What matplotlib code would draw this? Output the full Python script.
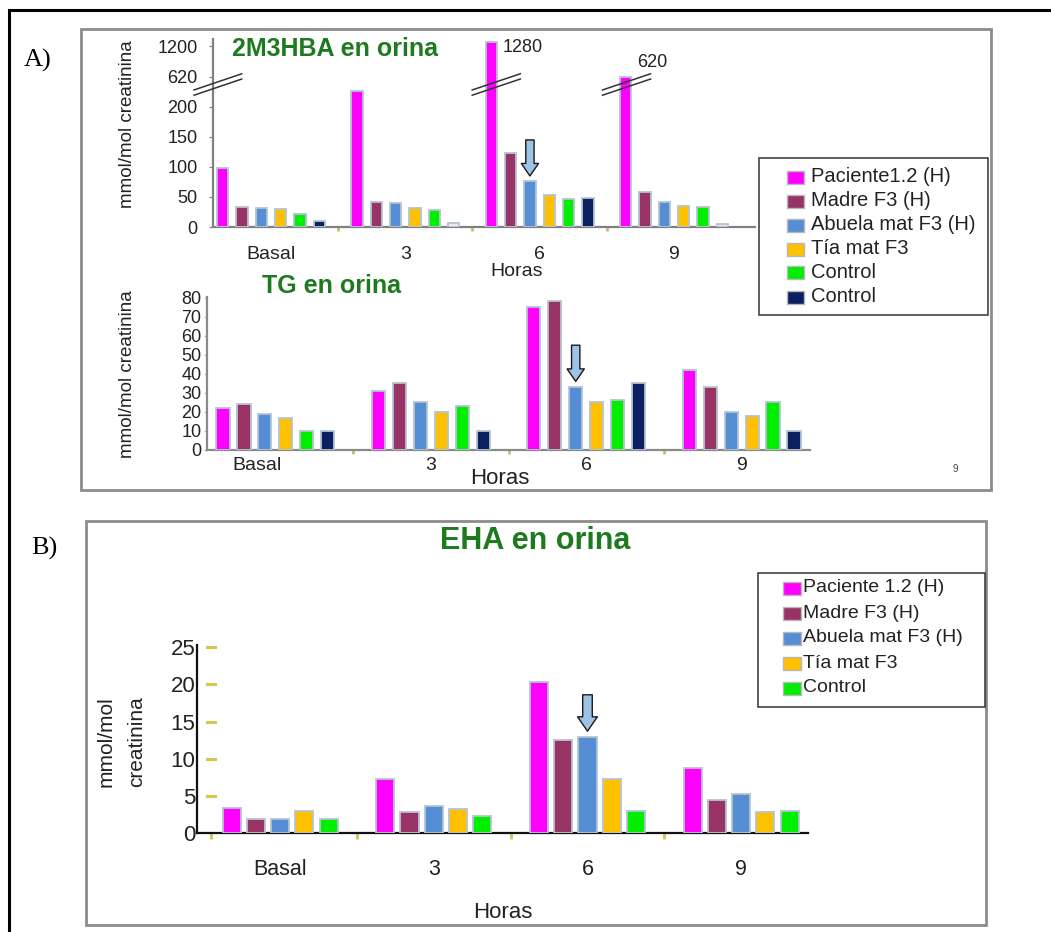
import numpy as np
import matplotlib
matplotlib.use("Agg")
import matplotlib.pyplot as plt
from matplotlib.patches import Rectangle
from matplotlib.lines import Line2D
from matplotlib.transforms import blended_transform_factory
from matplotlib import font_manager

# ---------------- data ----------------
timepoints = ["Basal", "3", "6", "9"]

series_a = ["Paciente1.2 (H)", "Madre F3 (H)", "Abuela mat F3 (H)", "Tía mat F3", "Control", "Control"]
m2hba_paciente = [99, 227, 1280, 620]
m2hba_madre = [34, 42, 124, 58]
m2hba_abuela = [31, 40, 77, 42]
m2hba_tia = [30, 32, 53, 35]
m2hba_control1 = [22, 29, 47, 33]
m2hba_control2 = [10, 6, 48, 5]
m2hba_labels = {2: "1280", 3: "620"}

tg_paciente = [22, 31, 75, 42]
tg_madre = [24, 35, 78, 33]
tg_abuela = [19, 25, 33, 20]
tg_tia = [17, 20, 25, 18]
tg_control1 = [10, 23, 26, 25]
tg_control2 = [10, 10, 35, 10]

series_b = ["Paciente 1.2 (H)", "Madre F3 (H)", "Abuela mat F3 (H)", "Tía mat F3", "Control"]
eha_paciente = [3.3, 7.3, 20.3, 8.8]
eha_madre = [1.9, 2.8, 12.5, 4.5]
eha_abuela = [1.9, 3.7, 12.9, 5.2]
eha_tia = [3.0, 3.2, 7.3, 2.8]
eha_control = [1.9, 2.3, 3.0, 3.0]

m2hba_ticks = [0, 50, 100, 150, 200, 620, 1200]
tg_ticks = [0, 10, 20, 30, 40, 50, 60, 70, 80]
eha_ticks = [0, 5, 10, 15, 20, 25]

# ---------------- styles ----------------
PINK, MAROON, BLUE, YELLOW, GREEN, NAVY, PALE = (
    "#ff00ff", "#993366", "#558ed5", "#ffc000", "#00ee00", "#0b2060", "#ece8f6")
colors_a = [PINK, MAROON, BLUE, YELLOW, GREEN, NAVY]
control2_bar_colors = [NAVY, PALE, NAVY, PALE]
colors_b = [PINK, MAROON, BLUE, YELLOW, GREEN]
EDGE = "#b4c4d2"
TGREEN = "#1e7a1e"
ARROW_FC = "#9dc3e6"

names = {f.name for f in font_manager.fontManager.ttflist}
SANS = "Liberation Sans" if "Liberation Sans" in names else "DejaVu Sans"
NARROW = "Liberation Sans Narrow" if "Liberation Sans Narrow" in names else SANS
SERIF = "Liberation Serif" if "Liberation Serif" in names else "DejaVu Serif"
plt.rcParams["font.family"] = [SANS, "DejaVu Sans"]

W, H = 1051, 932
fig = plt.figure(figsize=(W / 100, H / 100), dpi=100)
fig.patch.set_facecolor("white")


def R(x0, y0, x1, y1):
    return [x0 / W, 1 - y1 / H, (x1 - x0) / W, (y1 - y0) / H]


def T(x, y, s, **kw):
    return fig.text(x / W, 1 - y / H, s, **kw)


def frame(x0, y0, x1, y1, ec, lw):
    fig.add_artist(Rectangle((x0 / W, 1 - y1 / H), (x1 - x0) / W, (y1 - y0) / H,
                             fill=False, ec=ec, lw=lw, transform=fig.transFigure))


def down_arrow(ax, x, tip, tail, scale=20):
    ax.annotate("", xy=(x, tip), xytext=(x, tail),
                arrowprops=dict(arrowstyle="simple,head_length=0.45,head_width=0.62,tail_width=0.3",
                                fc=ARROW_FC, ec="#1a1a1a", lw=1.0, shrinkA=0, shrinkB=0,
                                mutation_scale=scale))


def manual_legend(box, labels, colors, patch_x, y0, dy, text_x, fs, pw=17, ph=13):
    x0, yt, x1, yb = box
    frame(x0, yt, x1, yb, "#333333", 1.1)
    for i, (lab, c) in enumerate(zip(labels, colors)):
        yc = y0 + i * dy
        fig.add_artist(Rectangle((patch_x / W, 1 - (yc + ph / 2) / H), pw / W, ph / H,
                                 fc=c, ec="#b8b8b8", lw=1.0, transform=fig.transFigure))
        T(text_x, yc, lab, ha="left", va="center", fontsize=fs, color="#222222")


# outer black frame (top and left only) and panel frames
fig.add_artist(Line2D([9 / W, 1.0], [1 - 10 / H, 1 - 10 / H], color="black", lw=2.2,
                      transform=fig.transFigure))
fig.add_artist(Line2D([9 / W, 9 / W], [1 - 10 / H, 0.0], color="black", lw=2.2,
                      transform=fig.transFigure))
frame(81, 29, 991, 490, "#8c8c8c", 2.0)
frame(86, 521, 986, 925, "#8c8c8c", 2.0)
T(38, 60, "A)", ha="center", va="center", fontsize=19, family=SERIF)
T(44, 548, "B)", ha="center", va="center", fontsize=19, family=SERIF)

x = np.arange(len(timepoints))


def grouped(ax, values, colors, slot, width, per_bar=None):
    n = len(values)
    for j, (vals, c) in enumerate(zip(values, colors)):
        xs = x + (j - (n - 1) / 2) * slot
        col = per_bar if (per_bar is not None and j == n - 1) else c
        ax.bar(xs, vals, width, color=col, edgecolor=EDGE, linewidth=1.3, zorder=3)


def base_style(ax, spine_color):
    for s in ("top", "right"):
        ax.spines[s].set_visible(False)
    for s in ("left", "bottom"):
        ax.spines[s].set_color(spine_color)
        ax.spines[s].set_linewidth(1.6)
    ax.set_facecolor("none")


# ---------------- panel A top: 2M3HBA ----------------
SLOPE_TOP = 0.088
XP = [-1e4, 240, 620, 1e5]
FP = [-1e4, 240, 250, 250 + (1e5 - 620) * SLOPE_TOP]


def fwd(v):
    return np.interp(v, XP, FP)


def inv(v):
    return np.interp(v, FP, XP)


ax1 = fig.add_axes(R(213, 39, 755, 227))
ax1.set_yscale("function", functions=(fwd, inv))
slot_a = 0.144
values_a = [m2hba_paciente, m2hba_madre, m2hba_abuela, m2hba_tia, m2hba_control1, m2hba_control2]
grouped(ax1, values_a, colors_a, slot_a, 0.085, per_bar=control2_bar_colors)
ax1.set_xlim(-0.432, 3.604)
ax1.set_ylim(0, float(inv(313)))
base_style(ax1, "#808080")
ax1.set_yticks(m2hba_ticks)
ax1.set_yticklabels([str(t) for t in m2hba_ticks])
ax1.tick_params(axis="y", length=3, color="#808080", pad=8, labelsize=13, labelcolor="#222222")
ax1.set_xticks(x)
ax1.set_xticklabels(timepoints)
ax1.tick_params(axis="x", length=0, pad=14, labelsize=14, labelcolor="#222222")
ax1.set_xticks([0.5, 1.5, 2.5], minor=True)
ax1.tick_params(axis="x", which="minor", length=3, width=2, color="#c8c060")

# break marks
bt = blended_transform_factory(ax1.transData, ax1.transAxes)
p_off = (0 - 2.5) * slot_a
for k, dxpx in ((2, 5), (3, 1)):
    xc = k + p_off + dxpx / 134.3
    for d in (-0.014, 0.014):
        ax1.plot([xc - 0.179, xc + 0.179], [0.758 - 0.043 + d, 0.758 + 0.043 + d],
                 transform=bt, color="#333333", lw=1.1, clip_on=False, zorder=5)
for d in (-0.014, 0.014):
    ax1.plot([-0.035, 0.053], [0.758 - 0.043 + d, 0.758 + 0.043 + d],
             transform=ax1.transAxes, color="#333333", lw=1.1, clip_on=False, zorder=5)

for k, lab in m2hba_labels.items():
    ax1.annotate(lab, xy=(k + p_off, m2hba_paciente[k]), xytext=(8, -4 if k == 2 else 10),
                 textcoords="offset points", ha="left", va="center", fontsize=13, color="#222222")

xa = 2 + (2 - 2.5) * slot_a
down_arrow(ax1, xa, m2hba_abuela[2] + 8, m2hba_abuela[2] + 68)

T(232, 49, "2M3HBA en orina", ha="left", va="center", fontsize=18, fontweight="bold", color=TGREEN)
T(128, 124, "mmol/mol creatinina", ha="center", va="center", rotation=90, fontsize=13.5,
  family=NARROW, color="#222222")
T(517, 272, "Horas", ha="center", va="center", fontsize=14, color="#222222")

manual_legend((759, 158, 988, 315), series_a, colors_a, 787, 177, 24, 811, 14.5)

# ---------------- panel A bottom: TG ----------------
ax2 = fig.add_axes(R(207, 297, 810, 450))
slot_t = 0.135
values_t = [tg_paciente, tg_madre, tg_abuela, tg_tia, tg_control1, tg_control2]
grouped(ax2, values_t, colors_a, slot_t, 0.085)
ax2.set_xlim(-0.44, 3.44)
ax2.set_ylim(0, 80.3)
base_style(ax2, "#8a8a8a")
ax2.set_yticks(tg_ticks)
ax2.tick_params(axis="y", length=2, color="#c8c060", pad=2, labelsize=13, labelcolor="#222222")
for lab in ax2.get_yticklabels():
    lab.set_family(NARROW)
ax2.set_xticks([-0.12, 1, 2, 3])
ax2.set_xticklabels(timepoints)
ax2.tick_params(axis="x", length=0, pad=5, labelsize=14, labelcolor="#222222")
for lab in ax2.get_xticklabels():
    lab.set_family(NARROW)
ax2.set_xticks([0.5, 1.5, 2.5], minor=True)
ax2.tick_params(axis="x", which="minor", length=3, width=2, color="#c8c060")
down_arrow(ax2, 2 + (2 - 2.5) * slot_t, tg_abuela[2] + 3, tg_abuela[2] + 22)

T(332, 286, "TG en orina", ha="center", va="center", fontsize=18, fontweight="bold", color=TGREEN)
T(128, 374, "mmol/mol creatinina", ha="center", va="center", rotation=90, fontsize=13.5,
  family=NARROW, color="#222222")
T(500, 478, "Horas", ha="center", va="center", fontsize=16, family=NARROW, color="#222222")
T(955, 469, "9", ha="center", va="center", fontsize=7, family=NARROW, color="#444444")

# ---------------- panel B: EHA ----------------
ax3 = fig.add_axes(R(197, 645, 808, 833))
slot_b = 0.158
values_b = [eha_paciente, eha_madre, eha_abuela, eha_tia, eha_control]
grouped(ax3, values_b, colors_b, slot_b, 0.118)
ax3.set_xlim(-0.541, 3.435)
ax3.set_ylim(0, 25.3)
base_style(ax3, "#111111")
ax3.set_yticks(eha_ticks)
ax3.tick_params(axis="y", length=0, pad=1, labelsize=16, labelcolor="#222222")
tb = blended_transform_factory(ax3.transAxes, ax3.transData)
for t in eha_ticks[1:]:
    ax3.plot([0.017, 0.029], [t, t], transform=tb, color="#d0c850", lw=2.2, clip_on=False)
ax3.set_xticks(x)
ax3.set_xticklabels(timepoints)
ax3.tick_params(axis="x", length=0, pad=19, labelsize=15.5, labelcolor="#222222")
ax3.set_xticks([-0.45, 0.5, 1.5, 2.5], minor=True)
ax3.tick_params(axis="x", which="minor", length=4, width=2, color="#d0c850")
down_arrow(ax3, 2 + (2 - 2.0) * slot_b, eha_abuela[2] + 0.8, eha_abuela[2] + 5.7, scale=23)

T(535, 541, "EHA en orina", ha="center", va="center", fontsize=22, fontweight="bold", color=TGREEN)
T(106, 742, "mmol/mol", ha="center", va="center", rotation=90, fontsize=15, color="#222222")
T(137, 742, "creatinina", ha="center", va="center", rotation=90, fontsize=15, color="#222222")
T(503, 912, "Horas", ha="center", va="center", fontsize=16, color="#222222")

manual_legend((758, 573, 985, 707), series_b, colors_b, 783, 588, 25, 803, 14, pw=18, ph=13)

fig.savefig("out.png", dpi=100)
